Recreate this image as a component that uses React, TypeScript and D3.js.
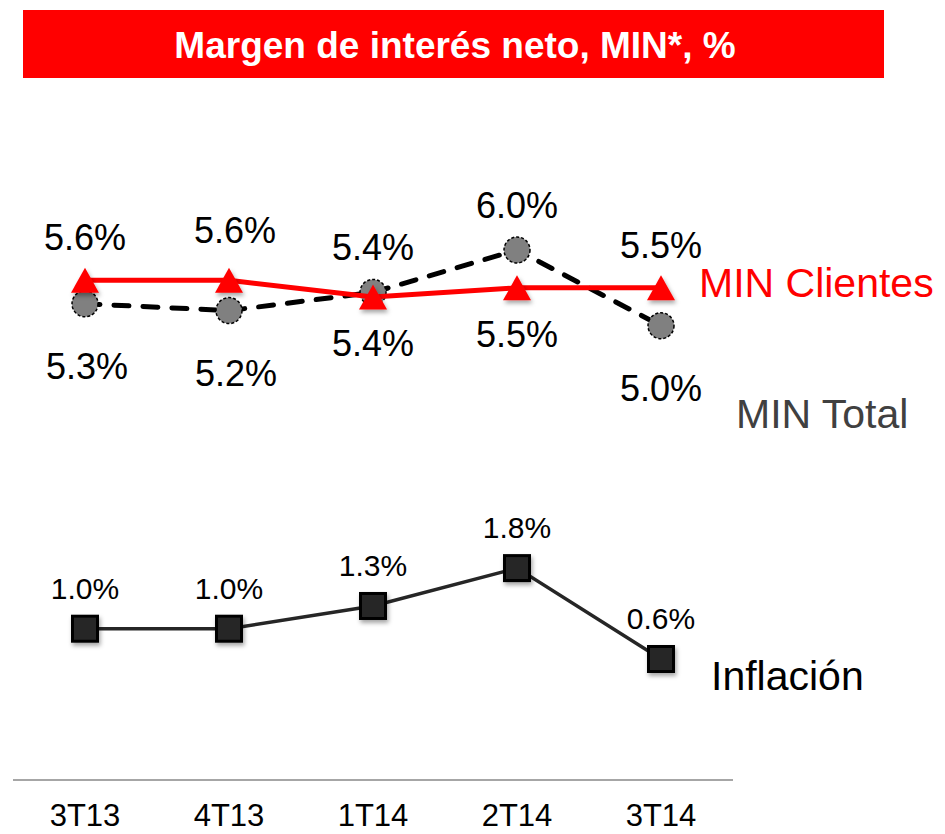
import * as d3 from "d3";

const categories = ["3T13", "4T13", "1T14", "2T14", "3T14"];
const minClientes = [5.6, 5.6, 5.38, 5.5, 5.5];
const minTotal = [5.29, 5.2, 5.44, 6.0, 5.0];
const inflacion = [1.0, 1.0, 1.3, 1.8, 0.6];
// which side each value label sits on
const clientesSide = ["above", "above", "below", "below", "above"];
const totalSide = ["below", "below", "above", "above", "below"];

const title = "Margen de interés neto, MIN*, %";
const font = "Arial, 'Liberation Sans', Helvetica, sans-serif";

export default function App() {
  const width = 945;
  const height = 834;

  const x = d3.scaleBand().domain(categories).range([13, 733]);
  const cx = (c: string) => (x(c) ?? 0) + x.bandwidth() / 2;
  const y = d3.scaleLinear().domain([0.6, 6.0]).range([659, 250]);

  const line = d3
    .line<number>()
    .x((_, i) => cx(categories[i]))
    .y((d) => y(d));

  const tri = "M0,-12.5L14,12.5L-14,12.5Z";
  const fmt = (v: number) => v.toFixed(1) + "%";

  return (
    <svg
      width={width}
      height={height}
      style={{ position: "absolute", left: 0, top: 0, background: "#fff" }}
    >
      <defs>
        <filter id="shadow" x="-50%" y="-50%" width="200%" height="200%">
          <feDropShadow dx="1.5" dy="3" stdDeviation="2" floodColor="#000" floodOpacity="0.35" />
        </filter>
      </defs>

      {/* title banner */}
      <rect x={23} y={10} width={861} height={68} fill="#FF0000" />
      <text
        x={455}
        y={58}
        textAnchor="middle"
        fill="#fff"
        fontFamily={font}
        fontWeight="bold"
        fontSize={37}
      >
        {title}
      </text>

      {/* MIN Total (dashed) */}
      <path
        d={line(minTotal) ?? ""}
        fill="none"
        stroke="#000"
        strokeWidth={5}
        strokeDasharray="15 14"
        strokeLinecap="round"
      />
      {minTotal.map((v, i) => (
        <circle
          key={"c" + i}
          cx={cx(categories[i])}
          cy={y(v)}
          r={13}
          fill="#808080"
          stroke="#000"
          strokeWidth={1.5}
          strokeDasharray="3 2"
        />
      ))}

      {/* MIN Clientes */}
      <path d={line(minClientes) ?? ""} fill="none" stroke="#FF0000" strokeWidth={5} />
      {minClientes.map((v, i) => (
        <path
          key={"t" + i}
          d={tri}
          transform={`translate(${cx(categories[i])},${y(v)})`}
          fill="#FF0000"
          filter="url(#shadow)"
        />
      ))}

      {/* value labels for MIN */}
      {minClientes.map((v, i) => (
        <text
          key={"lc" + i}
          x={cx(categories[i]) + (i === 1 ? 6 : 0)}
          y={y(v) + (clientesSide[i] === "above" ? (i === 1 ? -37 : -30) : 59)}
          textAnchor="middle"
          fontFamily={font}
          fontSize={36}
          fill="#000"
        >
          {fmt(v)}
        </text>
      ))}
      {minTotal.map((v, i) => (
        <text
          key={"lt" + i}
          x={cx(categories[i]) + (i === 1 ? 7 : i === 0 ? 2 : 0)}
          y={y(v) + (totalSide[i] === "above" ? -32 : 75)}
          textAnchor="middle"
          fontFamily={font}
          fontSize={36}
          fill="#000"
        >
          {fmt(v)}
        </text>
      ))}

      {/* Inflación */}
      <path d={line(inflacion) ?? ""} fill="none" stroke="#262626" strokeWidth={3.5} />
      {inflacion.map((v, i) => (
        <rect
          key={"s" + i}
          x={cx(categories[i]) - 12.5}
          y={y(v) - 12.5}
          width={25}
          height={25}
          fill="#262626"
          stroke="#000"
          strokeWidth={3}
          filter="url(#shadow)"
        />
      ))}
      {inflacion.map((v, i) => (
        <text
          key={"li" + i}
          x={cx(categories[i])}
          y={y(v) - 30}
          textAnchor="middle"
          fontFamily={font}
          fontSize={30}
          fill="#000"
        >
          {fmt(v)}
        </text>
      ))}

      {/* series names */}
      <text x={699} y={297} fontFamily={font} fontSize={41} fill="#FF0000">
        MIN Clientes
      </text>
      <text x={736} y={428} fontFamily={font} fontSize={41} fill="#404040">
        MIN Total
      </text>
      <text x={711} y={690} fontFamily={font} fontSize={41} fill="#000">
        Inflación
      </text>

      {/* axis */}
      <line x1={x.range()[0]} x2={x.range()[1]} y1={780} y2={780} stroke="#A6A6A6" strokeWidth={2} />
      {categories.map((c) => (
        <text
          key={c}
          x={cx(c)}
          y={826}
          textAnchor="middle"
          fontFamily={font}
          fontSize={31}
          fill="#000"
        >
          {c}
        </text>
      ))}
    </svg>
  );
}
